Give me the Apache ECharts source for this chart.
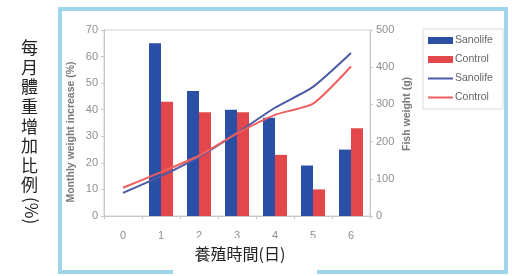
<!DOCTYPE html>
<html>
<head>
<meta charset="utf-8">
<script src="https://cdn.jsdelivr.net/npm/echarts@6/dist/echarts.min.js"></script>
<style>
	html, body { margin: 0; padding: 0; background: #fff; }
	#chart { width: 512px; height: 276px; }
</style>
</head>
<body>
<div id="chart"></div>
<script>
/* ── Data ────────────────────────────────────────────────── */
const months = ["0", "1", "2", "3", "4", "5", "6"];
const increaseSanolife = [null, 65, 47, 40, 37, 19, 25];
const increaseControl = [null, 43, 39, 39, 23, 10, 33];
const weightSanolife = [62, 107, 159, 223, 291, 347, 438];
const weightControl = [76, 118, 162, 222, 272, 302, 402];

const BLUE_BAR = "#2c4fa6";
const RED_BAR = "#e4474b";
const BLUE_LINE = "#4b5ba8";
const RED_LINE = "#f0605e";
const GRAY = "#8f8f8f";

const chart = echarts.init(document.getElementById("chart"), null, { renderer: "canvas" });

const axisCommon = {
	axisLine: { show: true, lineStyle: { color: "#c8c8c8" } },
	axisTick: { show: true, length: 3, lineStyle: { color: "#c8c8c8" } },
	axisLabel: { color: GRAY, fontSize: 11, fontFamily: "Liberation Sans", margin: 6 },
	splitLine: { show: false },
};

const nameStyle = { fill: "#7a7a7a", fontSize: 10.5, fontWeight: "bold", fontFamily: "Liberation Sans",
	align: "center", verticalAlign: "middle" };

chart.setOption({
	animation: false,
	backgroundColor: "#fff",
	grid: { left: 104, right: 142, top: 30, bottom: 60, show: true, borderColor: "#d0d0d0", borderWidth: 1 },
	legend: {
		orient: "vertical",
		left: 423,
		top: 29,
		itemWidth: 25,
		itemHeight: 7,
		itemGap: 8,
		padding: [6, 10, 6, 4],
		borderColor: "#dddddd",
		borderWidth: 1,
		formatter: n => n.trim(),
		textStyle: { color: "#666", fontSize: 10.5, fontFamily: "Liberation Sans", padding: [0, 0, 0, -3] },
		data: [
			{ name: "Sanolife", icon: "rect" },
			{ name: "Control", icon: "rect" },
			{ name: "Sanolife ", itemStyle: { opacity: 0 } },
			{ name: "Control ", itemStyle: { opacity: 0 } },
		],
	},
	xAxis: {
		type: "category",
		data: months,
		boundaryGap: true,
		axisLine: { lineStyle: { color: "#c8c8c8" } },
		axisTick: { show: true, length: 3, lineStyle: { color: "#c8c8c8" } },
		axisLabel: { color: GRAY, fontSize: 11, fontFamily: "Liberation Sans", margin: 14 },
	},
	yAxis: [
		{ ...axisCommon, type: "value", position: "left", min: 0, max: 70, interval: 10 },
		{ ...axisCommon, type: "value", position: "right", min: 0, max: 500, interval: 100 },
	],
	series: [
		{ name: "Sanolife", type: "bar", yAxisIndex: 0, data: increaseSanolife, barWidth: 12, barGap: "0%", itemStyle: { color: BLUE_BAR } },
		{ name: "Control", type: "bar", yAxisIndex: 0, data: increaseControl, barWidth: 12, barGap: "0%", itemStyle: { color: RED_BAR } },
		{ name: "Sanolife ", type: "line", yAxisIndex: 1, data: weightSanolife, smooth: 0.2, symbol: "none",
			lineStyle: { color: BLUE_LINE, width: 2 }, itemStyle: { color: BLUE_LINE } },
		{ name: "Control ", type: "line", yAxisIndex: 1, data: weightControl, smooth: 0.2, symbol: "none",
			lineStyle: { color: RED_LINE, width: 2 }, itemStyle: { color: RED_LINE } },
	],
	graphic: [
		// axis titles
		{ type: "text", z: 90, x: 71, y: 132, rotation: Math.PI / 2,
			style: { ...nameStyle, text: "Monthly weight increase (%)" } },
		{ type: "text", z: 90, x: 407, y: 114, rotation: Math.PI / 2,
			style: { ...nameStyle, text: "Fish weight (g)" } },
		// light blue frame round the figure
		{ type: "rect", z: 100, silent: true, shape: { x: 60, y: 9, width: 446, height: 263 },
			style: { fill: null, stroke: "#9fd6ea", lineWidth: 4 } },
		// white patch carrying the Chinese x title
		{ type: "rect", z: 101, silent: true, shape: { x: 173, y: 238, width: 144, height: 38 },
			style: { fill: "#fff" } },
		{ type: "text", z: 102, x: 240, y: 254,
			style: { text: "養殖時間(日)", fill: "#222", fontSize: 16, fontFamily: "Noto Sans CJK TC",
				align: "center", verticalAlign: "middle" } },
		// Chinese y title, stacked characters
		{ type: "text", z: 102, left: 21, top: 38,
			style: { text: "每\n月\n體\n重\n增\n加\n比\n例", fill: "#222", fontSize: 17, lineHeight: 19.6,
				fontFamily: "Noto Sans CJK TC" } },
		{ type: "text", z: 102, x: 40, y: 197, rotation: -Math.PI / 2,
			style: { text: "(%)", fill: "#222", fontSize: 17, fontFamily: "Noto Sans CJK TC" } },
	],
});
</script>
</body>
</html>
